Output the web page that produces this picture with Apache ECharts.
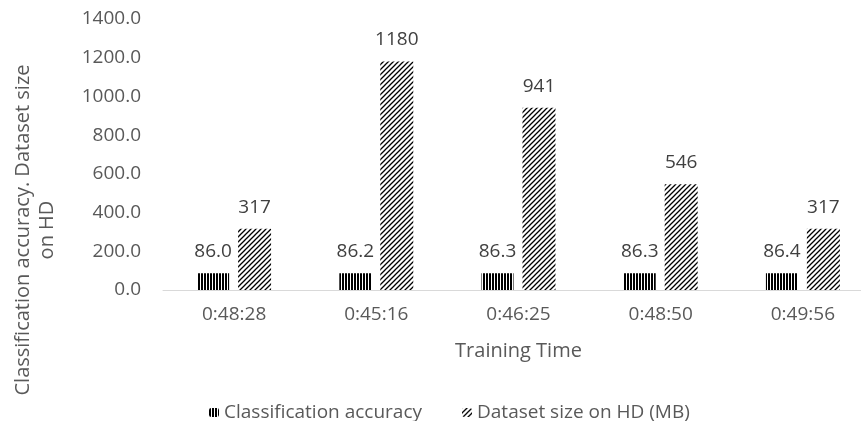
<!DOCTYPE html>
<html>
<head>
<meta charset="utf-8">
<script src="https://cdn.jsdelivr.net/npm/echarts@6/dist/echarts.min.js"></script>
<style>
  html, body { margin: 0; padding: 0; background: #fff; }
  #main { width: 861px; height: 421px; }
</style>
</head>
<body>
<div id="main"></div>
<script>
// data
const categories = ['0:48:28', '0:45:16', '0:46:25', '0:48:50', '0:49:56']
const accuracy = [86.0, 86.2, 86.3, 86.3, 86.4]
const datasetSize = [317, 1180, 941, 546, 317]
const yTicks = { min: 0, max: 1400, interval: 200 }

// 竖线填充
function stripePattern () {
  const c = document.createElement('canvas')
  c.width = 3
  c.height = 4
  const ctx = c.getContext('2d')
  ctx.fillStyle = '#fff'
  ctx.fillRect(0, 0, 3, 4)
  ctx.fillStyle = '#000'
  ctx.fillRect(0, 0, 2, 4)
  return c
}
// 斜线填充
function hatchPattern () {
  const s = 5
  const c = document.createElement('canvas')
  c.width = s
  c.height = s
  const ctx = c.getContext('2d')
  ctx.fillStyle = '#fff'
  ctx.fillRect(0, 0, s, s)
  ctx.strokeStyle = '#000'
  ctx.lineWidth = 1.3
  ctx.beginPath()
  ctx.moveTo(-1, s + 1); ctx.lineTo(s + 1, -1)
  ctx.moveTo(-1, 1); ctx.lineTo(1, -1)
  ctx.moveTo(s - 1, s + 1); ctx.lineTo(s + 1, s - 1)
  ctx.stroke()
  return c
}

const font = '"Open Sans", sans-serif'
const grey = '#595959'

const chart = echarts.init(document.getElementById('main'))
const option = {
  animation: false,
  textStyle: { fontFamily: font },
  grid: { left: 163, top: 19, width: 711, height: 271, outerBoundsMode: 'none' },
  legend: {
    left: 204,
    top: 398,
    itemWidth: 10,
    itemHeight: 9,
    itemGap: 40,
    textStyle: { color: grey, fontSize: 19, fontFamily: font },
    data: ['Classification accuracy', 'Dataset size on HD (MB)']
  },
  graphic: [
    {
      type: 'text',
      x: 35,
      y: 230,
      rotation: Math.PI / 2,
      style: {
        text: 'Classification accuracy. Dataset size\non HD',
        fill: grey,
        font: '20px ' + font,
        align: 'center',
        verticalAlign: 'middle',
        lineHeight: 24
      }
    }
  ],
  xAxis: {
    type: 'category',
    data: categories,
    name: 'Training Time',
    nameLocation: 'middle',
    nameGap: 51,
    nameTextStyle: { color: grey, fontSize: 20 },
    axisLine: { lineStyle: { color: '#d9d9d9', width: 1 } },
    axisTick: { show: false },
    axisLabel: { color: grey, fontSize: 19, margin: 15 }
  },
  yAxis: {
    type: 'value',
    min: yTicks.min,
    max: yTicks.max,
    interval: yTicks.interval,
    axisLine: { show: false },
    axisTick: { show: false },
    splitLine: { show: false },
    axisLabel: {
      color: grey,
      fontSize: 19,
      margin: 22,
      formatter: v => v.toFixed(1)
    }
  },
  series: [
    {
      name: 'Classification accuracy',
      type: 'bar',
      data: accuracy,
      barWidth: 32,
      barGap: '28%',
      itemStyle: { color: { image: stripePattern(), repeat: 'repeat' } },
      label: {
        show: true,
        position: 'top',
        distance: 12,
        color: '#404040',
        fontSize: 19,
        formatter: p => p.value.toFixed(1)
      }
    },
    {
      name: 'Dataset size on HD (MB)',
      type: 'bar',
      data: datasetSize,
      barWidth: 33,
      itemStyle: { color: { image: hatchPattern(), repeat: 'repeat' } },
      label: {
        show: true,
        position: 'top',
        distance: 12,
        color: '#404040',
        fontSize: 19,
        formatter: p => String(p.value)
      }
    }
  ]
}
chart.setOption(option)
</script>
</body>
</html>
